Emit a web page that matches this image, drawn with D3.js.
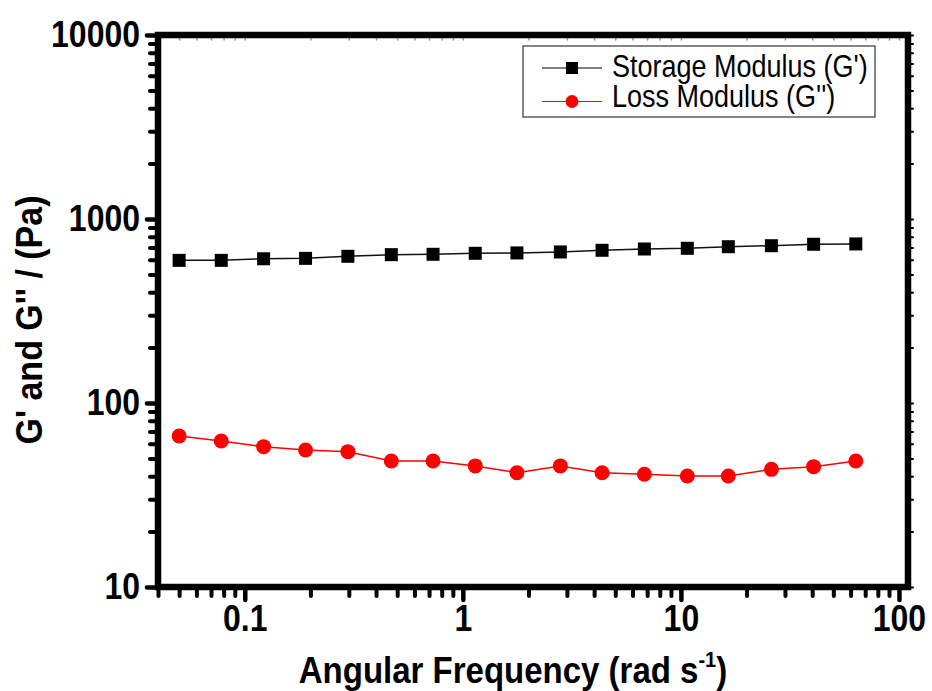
<!DOCTYPE html>
<html>
<head>
<meta charset="utf-8">
<title>G' and G'' vs Angular Frequency</title>
<script src="https://d3js.org/d3.v7.min.js"></script>
<style>
  body { margin: 0; background: #fff; }
  text { font-family: Arial, "Liberation Sans", sans-serif; }
</style>
</head>
<body>
<div id="chart"></div>
<script>
// angular frequency (rad/s)
var freq = [0.05, 0.078, 0.122, 0.19, 0.297, 0.47, 0.73, 1.14, 1.77, 2.8, 4.35, 6.8, 10.7, 16.5, 26, 40.6, 63.4];
// storage modulus G' (Pa)
var storage = [596, 596, 608, 611, 627, 640, 643, 651, 654, 662, 676, 687, 693, 707, 716, 729, 732];
// loss modulus G'' (Pa)
var loss = [66.2, 62.2, 57.9, 55.5, 54.4, 48.4, 48.4, 45.5, 41.8, 45.5, 41.8, 41.0, 40.1, 40.1, 43.6, 45.1, 48.4];

var xTicks = [0.1, 1, 10, 100];
var yTicks = [10, 100, 1000, 10000];
var seriesNames = ["Storage Modulus (G')", "Loss Modulus (G'')"];

var W = 932, H = 691;
var plotL = 158, plotR = 908, plotT = 35, plotB = 587;
var stretch = "scale(1,1.13)";

var svg = d3.select("#chart").append("svg")
    .attr("width", W)
    .attr("height", H);

var x = d3.scaleLog().domain([0.04, 110]).range([plotL, plotR]);
var y = d3.scaleLog().domain([10, 10000]).range([plotB, plotT]);

// minor tick values, 2..9 within each decade
function minors(lo, hi) {
  var out = [];
  for (var p = Math.floor(Math.log10(lo)); p < Math.ceil(Math.log10(hi)); p++) {
    for (var k = 2; k <= 9; k++) {
      var v = k * Math.pow(10, p);
      if (v >= lo * 0.999 && v <= hi) out.push(v);
    }
  }
  return out;
}
var xMinor = minors(0.04, 110);
var yMinor = minors(10, 10000);

function styleTicks(g, w) {
  g.select(".domain").remove();
  g.selectAll("line").attr("stroke", "#000").attr("stroke-width", w).attr("stroke-linecap", "round");
}

// bottom axis
svg.append("g").attr("transform", "translate(0," + plotB + ")")
  .call(d3.axisBottom(x).tickValues(xMinor).tickSize(9).tickFormat(""))
  .call(styleTicks, 4);
var gx = svg.append("g").attr("transform", "translate(0," + plotB + ")")
  .call(d3.axisBottom(x).tickValues(xTicks).tickSize(13).tickFormat(d3.format("~g")))
  .call(styleTicks, 4.5);
gx.selectAll("text")
  .attr("y", null).attr("dy", null)
  .attr("transform", "translate(0,44) " + stretch)
  .attr("fill", "#000")
  .style("font-size", "32px").style("font-weight", "bold");

// left axis
svg.append("g").attr("transform", "translate(" + plotL + ",0)")
  .call(d3.axisLeft(y).tickValues(yMinor).tickSize(8).tickFormat(""))
  .call(styleTicks, 4);
var gy = svg.append("g").attr("transform", "translate(" + plotL + ",0)")
  .call(d3.axisLeft(y).tickValues(yTicks).tickSize(11).tickFormat(d3.format("d")))
  .call(styleTicks, 4.5);
gy.selectAll("text")
  .attr("x", null).attr("dy", null)
  .attr("transform", "translate(-18,11) " + stretch)
  .attr("fill", "#000")
  .style("font-size", "32px").style("font-weight", "bold");

// faint ticks on top and right
svg.append("g").attr("transform", "translate(0," + plotT + ")")
  .call(d3.axisBottom(x).tickValues(xMinor.concat(xTicks)).tickSize(5).tickFormat(""))
  .call(styleTicks, 1.5)
  .selectAll("line").attr("stroke", "#999");
svg.append("g").attr("transform", "translate(" + plotR + ",0)")
  .call(d3.axisRight(y).tickValues(yMinor.concat(yTicks)).tickSize(5).tickFormat(""))
  .call(styleTicks, 2);

// frame
svg.append("rect")
  .attr("x", plotL).attr("y", plotT)
  .attr("width", plotR - plotL).attr("height", plotB - plotT)
  .attr("fill", "none").attr("stroke", "#000").attr("stroke-width", 6.5);

// series
var gData = freq.map(function(f, i) { return { f: f, v: storage[i] }; });
var lData = freq.map(function(f, i) { return { f: f, v: loss[i] }; });

var line = d3.line()
  .x(function(d) { return x(d.f); })
  .y(function(d) { return y(d.v); });

svg.append("path").datum(gData)
  .attr("d", line).attr("fill", "none")
  .attr("stroke", "#111").attr("stroke-width", 1.5);
svg.append("path").datum(lData)
  .attr("d", line).attr("fill", "none")
  .attr("stroke", "#ff0000").attr("stroke-width", 1.5);

svg.selectAll(".sq").data(gData).enter().append("rect")
  .attr("class", "sq")
  .attr("x", function(d) { return x(d.f) - 6.5; })
  .attr("y", function(d) { return y(d.v) - 6.5; })
  .attr("width", 13).attr("height", 13)
  .attr("fill", "#000");

svg.selectAll(".dot").data(lData).enter().append("circle")
  .attr("class", "dot")
  .attr("cx", function(d) { return x(d.f); })
  .attr("cy", function(d) { return y(d.v); })
  .attr("r", 7.5)
  .attr("fill", "#ff0000");

// legend
var lg = svg.append("g");
lg.append("rect")
  .attr("x", 523).attr("y", 46).attr("width", 352).attr("height", 71)
  .attr("fill", "#fff").attr("stroke", "#333").attr("stroke-width", 1.2);

lg.append("line").attr("x1", 542).attr("x2", 602).attr("y1", 68).attr("y2", 68)
  .attr("stroke", "#555").attr("stroke-width", 1.5);
lg.append("rect").attr("x", 566).attr("y", 62).attr("width", 12).attr("height", 12).attr("fill", "#000");
lg.append("text").attr("transform", "translate(612,77) " + stretch)
  .style("font-size", "27px").text(seriesNames[0]);

lg.append("line").attr("x1", 542).attr("x2", 602).attr("y1", 101.5).attr("y2", 101.5)
  .attr("stroke", "#ff0000").attr("stroke-width", 1.2);
lg.append("circle").attr("cx", 572).attr("cy", 101.5).attr("r", 6.5).attr("fill", "#ff0000");
lg.append("text").attr("transform", "translate(612,107) " + stretch)
  .style("font-size", "27px").text(seriesNames[1]);

// axis titles
var xt = svg.append("text")
  .attr("transform", "translate(513,683) " + stretch)
  .attr("text-anchor", "middle")
  .style("font-size", "33px").style("font-weight", "bold");
xt.append("tspan").text("Angular Frequency (rad s");
xt.append("tspan").attr("dy", -14).style("font-size", "20px").text("-1");
xt.append("tspan").attr("dy", 14).text(")");

svg.append("text")
  .attr("transform", "translate(42,320) rotate(-90) scale(1,1.1)")
  .attr("text-anchor", "middle")
  .style("font-size", "34px").style("font-weight", "bold")
  .text("G' and G'' / (Pa)");
</script>
</body>
</html>
